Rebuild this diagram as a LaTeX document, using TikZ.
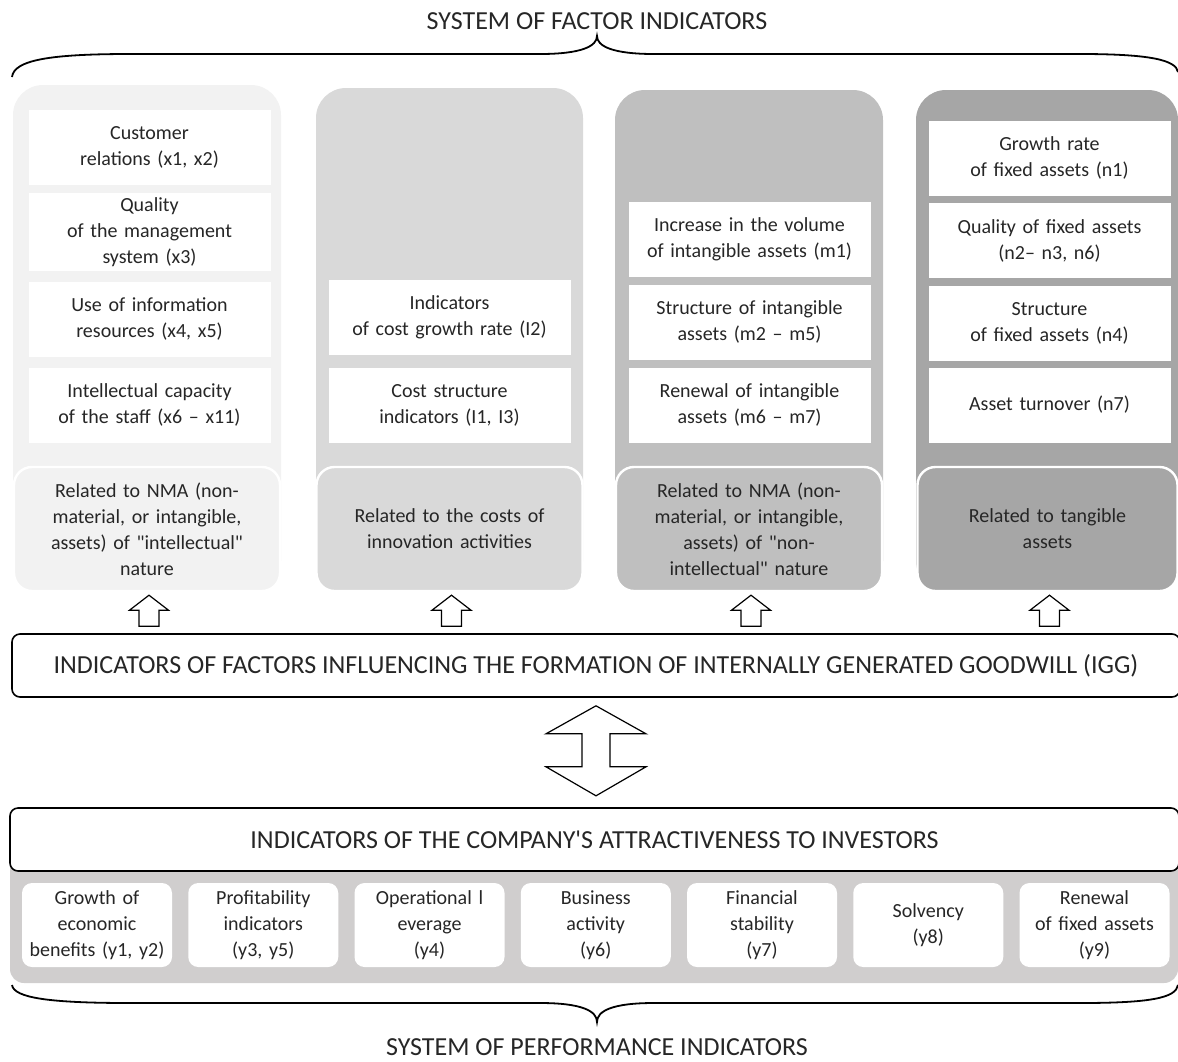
\documentclass[tikz,border=0pt]{standalone}
\usepackage{fontspec}
\setmainfont{Carlito}
\usetikzlibrary{positioning}

\definecolor{colA}{HTML}{F2F2F2}
\definecolor{colB}{HTML}{D9D9D9}
\definecolor{colC}{HTML}{BFBFBF}
\definecolor{colD}{HTML}{A6A6A6}
\definecolor{perfbg}{HTML}{D0CECE}
\definecolor{txt}{HTML}{262626}

\tikzset{
	lbl/.style={font=\fontsize{10}{13}\selectfont, text=txt, align=center},
	cell/.style={lbl, fill=white, minimum width=121pt, minimum height=37.5pt, inner sep=2pt, text width=117pt},
	head/.style={lbl, draw=white, line width=1.2pt, rounded corners=9pt, minimum width=133pt, minimum height=62pt, inner sep=2pt, text width=125pt},
	bigtitle/.style={font=\fontsize{13}{15}\selectfont, text=txt},
	frame/.style={draw=black, line width=0.8pt, rounded corners=4pt, fill=white},
	perf/.style={lbl, fill=white, rounded corners=5pt, minimum width=75pt, minimum height=42pt, inner sep=1.5pt, text width=72pt},
	bracket/.style={line width=0.9pt},
	block/.style={draw=black, line width=0.6pt, fill=white, line join=miter}
}

\begin{document}
\begin{tikzpicture}[x=0.5pt, y=-0.5pt]
	\useasboundingbox (0,0) rectangle (1178,1061);

	% factor side
	\node[bigtitle] (factTitle) at (597,21) {SYSTEM OF FACTOR INDICATORS};
	\draw[bracket] (12,77) .. controls (14,60) and (50,54) .. (130,54) -- (540,54)
		.. controls (582,54) and (597,46) .. (597,36)
		.. controls (597,46) and (612,54) .. (654,54) -- (1080,54)
		.. controls (1150,54) and (1176,60) .. (1178,72);

	\fill[colA, rounded corners=15pt] (13,85) rectangle (281,591);
	\fill[colB, rounded corners=15pt] (316,88) rectangle (583,591);
	\fill[colC, rounded corners=15pt] (615,90) rectangle (883,591);
	\fill[colD, rounded corners=15pt] (916,90) rectangle (1178,591);

	\node[cell] (x12) at (149.5,147) {Customer\\relations (x1, x2)};
	\node[cell] (x3) at (149.5,232) {Quality\\of the management\\system (x3)};
	\node[cell] (x45) at (149.5,319) {Use of information\\resources (x4, x5)};
	\node[cell] (x611) at (149.5,405) {Intellectual capacity\\of the staff (x6 – x11)};

	\node[cell] (I2) at (449.5,317) {Indicators\\of cost growth rate (I2)};
	\node[cell] (I13) at (449.5,405) {Cost structure\\indicators (I1, I3)};

	\node[cell] (m1) at (749.5,239) {Increase in the volume\\of intangible assets (m1)};
	\node[cell] (m25) at (749.5,322) {Structure of intangible\\assets (m2 – m5)};
	\node[cell] (m67) at (749.5,405) {Renewal of intangible\\assets (m6 – m7)};

	\node[cell] (n1) at (1049.5,158) {Growth rate\\of fixed assets (n1)};
	\node[cell] (n236) at (1049.5,240.5) {Quality of fixed assets\\(n2– n3, n6)};
	\node[cell] (n4) at (1049.5,323) {Structure\\of fixed assets (n4)};
	\node[cell] (n7) at (1049.5,405) {Asset turnover (n7)};

	\node[head, fill=colA] (hInt) at (147,529) {Related to NMA (non-\\material, or intangible,\\assets) of \textquotedbl intellectual\textquotedbl\\nature};
	\node[head, fill=colB] (hCost) at (449.5,529) {Related to the costs of\\innovation activities};
	\node[head, fill=colC] (hNon) at (749,529) {Related to NMA (non-\\material, or intangible,\\assets) of \textquotedbl non-\\intellectual\textquotedbl{} nature};
	\node[head, fill=colD, minimum width=130pt] (hTang) at (1047.5,529) {Related to tangible\\assets};

	\node[frame, minimum width=584pt, minimum height=31.5pt, bigtitle] (igg) at (596,665.5)
		{INDICATORS OF FACTORS INFLUENCING THE FORMATION OF INTERNALLY GENERATED GOODWILL (IGG)};

	\foreach \h in {hInt,hCost,hNon,hTang}
		\draw[block] ([xshift=1pt]\h.south) ++(0,3) -- ++(19.5,15) -- ++(-9.5,0) -- ++(0,16)
			-- ++(-20,0) -- ++(0,-16) -- ++(-9.5,0) -- cycle;

	\draw[block] (igg.south) ++(0,8) -- ++(50,28) -- ++(-36,0) -- ++(0,33) -- ++(36,0)
		-- ++(-50,29) -- ++(-50,-29) -- ++(36,0) -- ++(0,-33) -- ++(-36,0) -- cycle;

	% performance side
	\fill[perfbg, rounded corners=7pt] (10,808) rectangle (1178,983);
	\node[frame, minimum width=584.5pt, minimum height=31.5pt, bigtitle] (invest) at (594.5,839.5)
		{INDICATORS OF THE COMPANY\textquotesingle S ATTRACTIVENESS TO INVESTORS};

	\foreach \t [count=\i] in {{Growth of\\economic\\benefits (y1, y2)}, {Profitability\\indicators\\(y3, y5)},
		{Operational l\\everage\\(y4)}, {Business\\activity\\(y6)}, {Financial\\stability\\(y7)},
		{Solvency\\(y8)}, {Renewal\\of fixed assets\\(y9)}}
		\node[perf] (y\i) at ({97+166.25*(\i-1)},925) {\t};

	\draw[bracket] (12,985) .. controls (14,998) and (50,1003) .. (130,1003) -- (540,1003)
		.. controls (582,1003) and (597,1011) .. (597,1022)
		.. controls (597,1011) and (612,1003) .. (654,1003) -- (1080,1003)
		.. controls (1150,1003) and (1176,998) .. (1178,985);
	\node[bigtitle] (perfTitle) at (597,1047) {SYSTEM OF PERFORMANCE INDICATORS};
\end{tikzpicture}
\end{document}
